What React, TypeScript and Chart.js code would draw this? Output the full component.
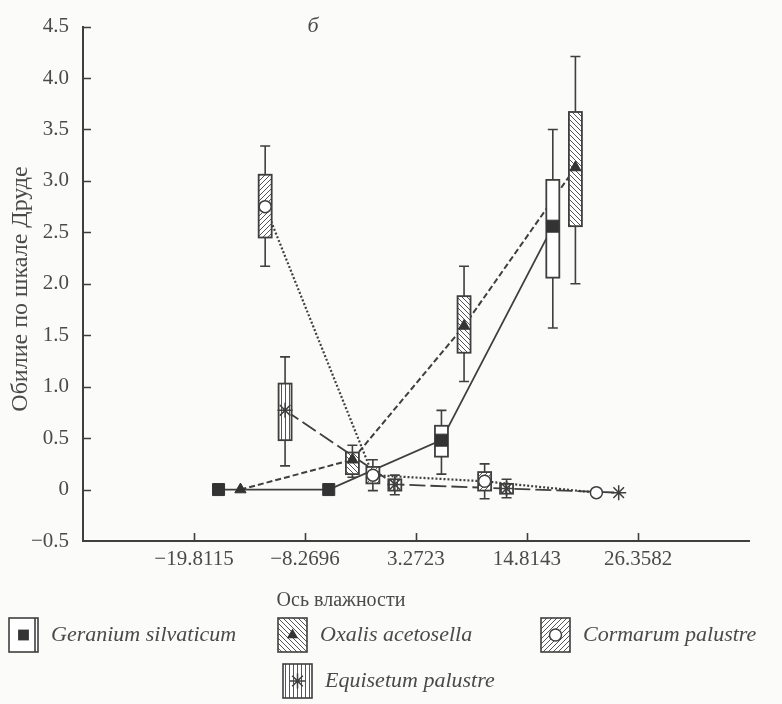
import React, { useEffect, useRef } from 'react';
import { Chart, registerables } from 'chart.js';

Chart.register(...registerables);

// ---------- data ----------
const X_TICKS = [-19.8115, -8.2696, 3.2723, 14.8143, 26.3582];
const X_TICK_LABELS = ['\u221219.8115', '\u22128.2696', '3.2723', '14.8143', '26.3582'];
const X_MIN = -31.3534;
const X_MAX = 37.9001;

const Y_TICKS = [-0.5, 0, 0.5, 1, 1.5, 2, 2.5, 3, 3.5, 4, 4.5];
const Y_TICK_LABELS = ['\u22120.5', '0', '0.5', '1.0', '1.5', '2.0', '2.5', '3.0', '3.5', '4.0', '4.5'];

const SPECIES = ['Geranium silvaticum', 'Oxalis acetosella', 'Cormarum palustre', 'Equisetum palustre'];

const GERANIUM_X = [-17.26, -5.8, 5.92, 17.5];
const GERANIUM_MEAN = [0, 0, 0.48, 2.56];
const GERANIUM_Q1 = [null, null, 0.32, 2.06];
const GERANIUM_Q3 = [null, null, 0.62, 3.01];
const GERANIUM_MIN = [null, null, 0.15, 1.57];
const GERANIUM_MAX = [null, null, 0.77, 3.5];

const OXALIS_X = [-14.98, -3.34, 8.27, 19.85];
const OXALIS_MEAN = [0, 0.29, 1.59, 3.13];
const OXALIS_Q1 = [null, 0.15, 1.33, 2.56];
const OXALIS_Q3 = [null, 0.36, 1.88, 3.67];
const OXALIS_MIN = [null, 0.12, 1.05, 2.0];
const OXALIS_MAX = [null, 0.43, 2.17, 4.21];

const CORMARUM_X = [-12.41, -1.21, 10.41, 22.03];
const CORMARUM_MEAN = [2.75, 0.14, 0.08, -0.03];
const CORMARUM_Q1 = [2.45, 0.06, -0.01, null];
const CORMARUM_Q3 = [3.06, 0.22, 0.17, null];
const CORMARUM_MIN = [2.17, -0.01, -0.09, null];
const CORMARUM_MAX = [3.34, 0.29, 0.25, null];

const EQUISETUM_X = [-10.34, 1.07, 12.69, 24.35];
const EQUISETUM_MEAN = [0.77, 0.05, 0.01, -0.03];
const EQUISETUM_Q1 = [0.48, -0.01, -0.04, null];
const EQUISETUM_Q3 = [1.03, 0.1, 0.055, null];
const EQUISETUM_MIN = [0.23, -0.05, -0.08, null];
const EQUISETUM_MAX = [1.29, 0.14, 0.1, null];

// ---------- styles ----------
const INK = '#3f3f3f';
const TEXT = '#4a4a4a';
const SERIF = "'Liberation Serif', 'Times New Roman', 'DejaVu Serif', serif";

type Series = {
  name: string;
  x: number[];
  mean: number[];
  q1: (number | null)[];
  q3: (number | null)[];
  min: (number | null)[];
  max: (number | null)[];
  hatch: 'none' | 'back' | 'fwd' | 'vert';
  marker: 'rect' | 'triangle' | 'circle' | 'star';
  dash: number[];
  lineWidth: number;
};

const SERIES: Series[] = [
  { name: SPECIES[0], x: GERANIUM_X, mean: GERANIUM_MEAN, q1: GERANIUM_Q1, q3: GERANIUM_Q3, min: GERANIUM_MIN, max: GERANIUM_MAX, hatch: 'none', marker: 'rect', dash: [], lineWidth: 1.8 },
  { name: SPECIES[1], x: OXALIS_X, mean: OXALIS_MEAN, q1: OXALIS_Q1, q3: OXALIS_Q3, min: OXALIS_MIN, max: OXALIS_MAX, hatch: 'back', marker: 'triangle', dash: [6, 3], lineWidth: 2 },
  { name: SPECIES[2], x: CORMARUM_X, mean: CORMARUM_MEAN, q1: CORMARUM_Q1, q3: CORMARUM_Q3, min: CORMARUM_MIN, max: CORMARUM_MAX, hatch: 'fwd', marker: 'circle', dash: [2, 2], lineWidth: 2.2 },
  { name: SPECIES[3], x: EQUISETUM_X, mean: EQUISETUM_MEAN, q1: EQUISETUM_Q1, q3: EQUISETUM_Q3, min: EQUISETUM_MIN, max: EQUISETUM_MAX, hatch: 'vert', marker: 'star', dash: [16, 5], lineWidth: 1.8 },
];

const MARKER_STYLE: Record<string, { radius: number; bg: string; border: string; bw: number }> = {
  rect: { radius: 8.5, bg: '#333', border: '#333', bw: 1 },
  triangle: { radius: 6.5, bg: '#333', border: '#333', bw: 1 },
  circle: { radius: 6, bg: '#ffffff', border: INK, bw: 1.5 },
  star: { radius: 7.5, bg: INK, border: INK, bw: 1.5 },
};

function makePattern(ctx: CanvasRenderingContext2D, kind: string): CanvasPattern | string {
  if (kind === 'none') return '#ffffff';
  const c = document.createElement('canvas');
  const s = kind === 'vert' ? 4 : 5;
  c.width = s;
  c.height = s;
  const g = c.getContext('2d')!;
  g.fillStyle = '#ffffff';
  g.fillRect(0, 0, s, s);
  g.strokeStyle = '#555';
  g.lineWidth = 1;
  g.beginPath();
  if (kind === 'vert') {
    g.moveTo(1.5, 0);
    g.lineTo(1.5, s);
  } else if (kind === 'back') {
    for (let k = -1; k <= 1; k++) {
      g.moveTo(k * s, 0);
      g.lineTo(k * s + s, s);
    }
  } else {
    for (let k = -1; k <= 1; k++) {
      g.moveTo(k * s, s);
      g.lineTo(k * s + s, 0);
    }
  }
  g.stroke();
  return ctx.createPattern(c, 'repeat')!;
}

function drawMarker(ctx: CanvasRenderingContext2D, kind: string, x: number, y: number, scale = 1) {
  const st = MARKER_STYLE[kind];
  const r = st.radius * scale;
  ctx.save();
  ctx.fillStyle = st.bg;
  ctx.strokeStyle = st.border;
  ctx.lineWidth = st.bw;
  ctx.beginPath();
  if (kind === 'rect') {
    const h = r * Math.SQRT1_2;
    ctx.rect(x - h, y - h, 2 * h, 2 * h);
    ctx.fill();
  } else if (kind === 'triangle') {
    let a = 0;
    ctx.moveTo(x + Math.sin(a) * r, y - Math.cos(a) * r);
    a += (2 * Math.PI) / 3;
    ctx.lineTo(x + Math.sin(a) * r, y - Math.cos(a) * r);
    a += (2 * Math.PI) / 3;
    ctx.lineTo(x + Math.sin(a) * r, y - Math.cos(a) * r);
    ctx.closePath();
    ctx.fill();
  } else if (kind === 'circle') {
    ctx.arc(x, y, r, 0, Math.PI * 2);
    ctx.fill();
    ctx.stroke();
  } else {
    for (let k = 0; k < 4; k++) {
      const a = (k * Math.PI) / 4;
      ctx.moveTo(x - Math.cos(a) * r, y - Math.sin(a) * r);
      ctx.lineTo(x + Math.cos(a) * r, y + Math.sin(a) * r);
    }
    ctx.stroke();
  }
  ctx.restore();
}

const BOX_W = 13;
const CAP_W = 10;

const backgroundPlugin = {
  id: 'bg',
  beforeDraw(chart: any) {
    const ctx = chart.ctx;
    ctx.save();
    ctx.fillStyle = '#fbfbf9';
    ctx.fillRect(0, 0, chart.width, chart.height);
    ctx.restore();
  },
};

const boxPlugin = {
  id: 'boxes',
  afterDatasetDraw(chart: any, args: any) {
    if (args.index !== 0) return;
    const ctx: CanvasRenderingContext2D = chart.ctx;
    const xs = chart.scales.x;
    const ys = chart.scales.y;
    ctx.save();
    SERIES.forEach((s) => {
      const fill = makePattern(ctx, s.hatch);
      s.x.forEach((xv, i) => {
        const q1 = s.q1[i], q3 = s.q3[i], mn = s.min[i], mx = s.max[i];
        if (q1 == null || q3 == null || mn == null || mx == null) return;
        const px = xs.getPixelForValue(xv);
        const pMin = ys.getPixelForValue(mn);
        const pMax = ys.getPixelForValue(mx);
        const pQ1 = ys.getPixelForValue(q1);
        const pQ3 = ys.getPixelForValue(q3);
        ctx.strokeStyle = INK;
        ctx.lineWidth = 1.6;
        ctx.setLineDash([]);
        ctx.beginPath();
        ctx.moveTo(px, pMin);
        ctx.lineTo(px, pMax);
        ctx.moveTo(px - CAP_W / 2, pMin);
        ctx.lineTo(px + CAP_W / 2, pMin);
        ctx.moveTo(px - CAP_W / 2, pMax);
        ctx.lineTo(px + CAP_W / 2, pMax);
        ctx.stroke();
        ctx.fillStyle = fill as any;
        ctx.fillRect(px - BOX_W / 2, pQ3, BOX_W, pQ1 - pQ3);
        ctx.lineWidth = 1.8;
        ctx.strokeRect(px - BOX_W / 2, pQ3, BOX_W, pQ1 - pQ3);
      });
    });
    ctx.restore();
  },
};

const ticksPlugin = {
  id: 'inwardTicks',
  afterDraw(chart: any) {
    const ctx: CanvasRenderingContext2D = chart.ctx;
    const { left, bottom } = chart.chartArea;
    const xs = chart.scales.x;
    const ys = chart.scales.y;
    ctx.save();
    ctx.strokeStyle = INK;
    ctx.lineWidth = 1.6;
    ctx.beginPath();
    Y_TICKS.forEach((v) => {
      if (v === Y_TICKS[0]) return;
      const p = Math.round(ys.getPixelForValue(v)) + 0.5;
      ctx.moveTo(left, p);
      ctx.lineTo(left + 8, p);
    });
    X_TICKS.forEach((v) => {
      const p = Math.round(xs.getPixelForValue(v)) + 0.5;
      ctx.moveTo(p, bottom);
      ctx.lineTo(p, bottom - 8);
    });
    ctx.stroke();
    ctx.restore();
  },
};

const textPlugin = {
  id: 'texts',
  afterDraw(chart: any) {
    const ctx: CanvasRenderingContext2D = chart.ctx;
    ctx.save();
    ctx.fillStyle = TEXT;
    ctx.textBaseline = 'middle';
    // panel letter
    ctx.font = `italic 22px ${SERIF}`;
    ctx.textAlign = 'center';
    ctx.fillText('\u0431', 313, 26);
    // x title
    ctx.font = `20px ${SERIF}`;
    ctx.fillText('\u041e\u0441\u044c \u0432\u043b\u0430\u0436\u043d\u043e\u0441\u0442\u0438', 341, 601);
    // y title
    ctx.save();
    ctx.translate(21, 289);
    ctx.rotate(-Math.PI / 2);
    ctx.font = `24px ${SERIF}`;
    ctx.fillText('\u041e\u0431\u0438\u043b\u0438\u0435 \u043f\u043e \u0448\u043a\u0430\u043b\u0435 \u0414\u0440\u0443\u0434\u0435', 0, 0);
    ctx.restore();

    // legend
    const items = [
      { s: SERIES[0], x: 9, y: 618 },
      { s: SERIES[1], x: 278, y: 618 },
      { s: SERIES[2], x: 541, y: 618 },
      { s: SERIES[3], x: 283, y: 664 },
    ];
    items.forEach(({ s, x, y }) => {
      const w = 29, h = 34;
      ctx.fillStyle = makePattern(ctx, s.hatch) as any;
      ctx.fillRect(x, y, w, h);
      ctx.strokeStyle = INK;
      ctx.lineWidth = 1.6;
      ctx.strokeRect(x, y, w, h);
      if (s.hatch === 'none') {
        ctx.beginPath();
        ctx.moveTo(x + w - 3, y);
        ctx.lineTo(x + w - 3, y + h);
        ctx.stroke();
      }
      drawMarker(ctx, s.marker, x + w / 2, y + h / 2, s.marker === 'rect' ? 0.9 : 1);
      ctx.fillStyle = TEXT;
      ctx.font = `italic 22px ${SERIF}`;
      ctx.textAlign = 'left';
      ctx.textBaseline = 'middle';
      ctx.fillText(s.name, x + w + 13, y + h / 2);
    });
    ctx.restore();
  },
};

export default function App() {
  const ref = useRef<HTMLCanvasElement | null>(null);

  useEffect(() => {
    if (!ref.current) return;
    const lineSets = SERIES.map((s) => ({
      label: s.name,
      data: s.x.map((xv, i) => ({ x: xv, y: s.mean[i] })),
      showLine: true,
      borderColor: INK,
      borderWidth: s.lineWidth,
      borderDash: s.dash,
      pointRadius: 0,
      fill: false,
      order: 2,
    }));
    const markerSets = SERIES.map((s) => {
      const st = MARKER_STYLE[s.marker];
      return {
        label: s.name + ' mean',
        data: s.x.map((xv, i) => ({ x: xv, y: s.mean[i] })),
        showLine: false,
        pointStyle: s.marker,
        pointRadius: st.radius,
        pointBackgroundColor: st.bg,
        pointBorderColor: st.border,
        pointBorderWidth: st.bw,
        order: 1,
      };
    });

    const chart = new Chart(ref.current, {
      type: 'scatter',
      data: { datasets: [...lineSets, ...markerSets] as any },
      options: {
        responsive: false,
        animation: false,
        devicePixelRatio: 1,
        layout: { padding: { top: 25, right: 33, bottom: 0, left: 0 } },
        plugins: { legend: { display: false }, tooltip: { enabled: false }, title: { display: false } },
        scales: {
          x: {
            type: 'linear',
            min: X_MIN,
            max: X_MAX,
            afterBuildTicks: (s: any) => {
              s.ticks = X_TICKS.map((v) => ({ value: v }));
            },
            afterFit: (s: any) => {
              s.height = 163;
            },
            ticks: {
              autoSkip: false,
              maxRotation: 0,
              padding: 6,
              color: TEXT,
              font: { family: SERIF, size: 21 },
              callback: (_v: any, i: number) => X_TICK_LABELS[i],
            },
            grid: { display: false, drawTicks: false },
            border: { display: true, color: INK, width: 2 },
          },
          y: {
            type: 'linear',
            min: -0.5,
            max: 4.5,
            afterBuildTicks: (s: any) => {
              s.ticks = Y_TICKS.map((v) => ({ value: v }));
            },
            afterFit: (s: any) => {
              s.width = 83;
            },
            ticks: {
              autoSkip: false,
              padding: 14,
              color: TEXT,
              font: { family: SERIF, size: 21 },
              callback: (_v: any, i: number) => Y_TICK_LABELS[i],
            },
            grid: { display: false, drawTicks: false },
            border: { display: true, color: INK, width: 2 },
          },
        },
      } as any,
      plugins: [backgroundPlugin, boxPlugin, ticksPlugin, textPlugin],
    });
    return () => chart.destroy();
  }, []);

  return (
    <div style={{ position: 'absolute', left: 0, top: 0, width: 782, height: 704 }}>
      <canvas ref={ref} width={782} height={704} style={{ width: 782, height: 704, display: 'block' }} />
    </div>
  );
}
